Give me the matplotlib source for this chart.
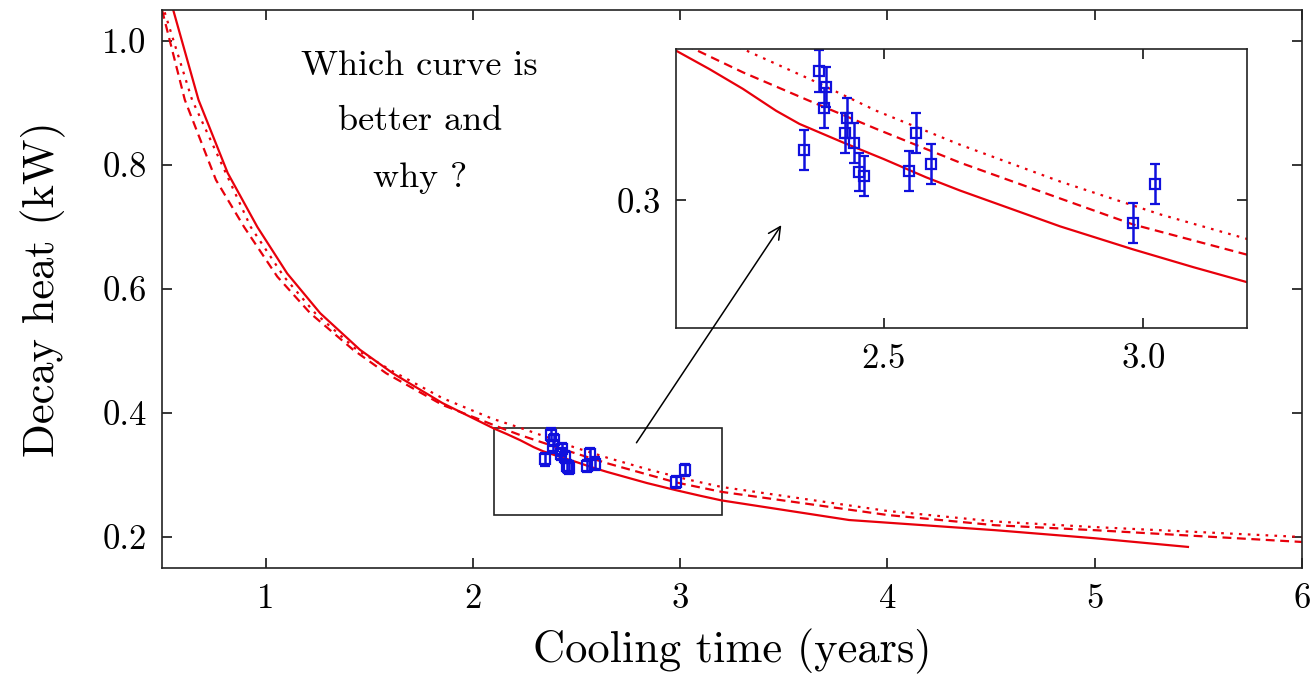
import numpy as np
import matplotlib
matplotlib.use("Agg")
import matplotlib.pyplot as plt

plt.rcParams['font.family'] = 'serif'
plt.rcParams['font.serif'] = ['cmr10', 'DejaVu Serif']
plt.rcParams['axes.formatter.use_mathtext'] = True

# measured points (cooling time in years, decay heat in kW)
t_meas = [2.346, 2.375, 2.389, 2.386, 2.429, 2.426, 2.443, 2.452, 2.462,
          2.548, 2.563, 2.591, 2.980, 3.022]
q_meas = [0.3253, 0.3651, 0.3568, 0.3462, 0.3414, 0.3337, 0.3288, 0.3141, 0.3121,
          0.3148, 0.3339, 0.3183, 0.2887, 0.3083]
q_err = [0.010, 0.0105, 0.010, 0.010, 0.010, 0.010, 0.010, 0.0095, 0.010,
         0.010, 0.010, 0.010, 0.010, 0.010]

# calculated curves
t_solid = [0.554, 0.676, 0.817, 0.960, 1.104, 1.263, 1.455, 1.614, 1.853, 2.100,
           2.164, 2.229, 2.293, 2.338, 2.421, 2.500, 2.582, 2.647, 2.840, 2.980,
           3.097, 3.200, 3.815, 4.520, 5.000, 5.450]
q_solid = [1.050, 0.905, 0.787, 0.700, 0.625, 0.561, 0.502, 0.464, 0.416, 0.3752,
           0.366, 0.356, 0.345, 0.3384, 0.3292, 0.3208, 0.3116, 0.3050, 0.2870, 0.2755,
           0.2665, 0.2590, 0.2274, 0.211, 0.198, 0.184]

t_dash = [0.500, 0.610, 0.760, 0.896, 1.056, 1.215, 1.422, 1.582, 1.853, 2.135,
          2.229, 2.357, 2.486, 2.647, 2.840, 2.980, 3.200, 4.000, 4.520, 5.000, 6.000]
q_dash = [1.050, 0.905, 0.776, 0.700, 0.620, 0.561, 0.502, 0.464, 0.413, 0.376,
          0.3643, 0.350, 0.3359, 0.3190, 0.3010, 0.2880, 0.2728, 0.2355, 0.219, 0.211, 0.192]

t_dot = [0.500, 0.645, 0.928, 1.088, 1.239, 1.439, 1.614, 1.853, 2.092, 2.229,
         2.357, 2.486, 2.647, 2.840, 3.033, 3.200, 4.000, 4.520, 5.000, 6.000]
q_dot = [1.060, 0.905, 0.700, 0.620, 0.561, 0.502, 0.467, 0.424, 0.391, 0.376,
         0.361, 0.345, 0.3280, 0.3095, 0.2930, 0.2807, 0.242, 0.225, 0.216, 0.200]

red = '#e8000b'
blue = '#1010dd'

fig = plt.figure(figsize=(13.11, 6.77), dpi=100)
ax = fig.add_axes([0.1236, 0.161, 0.8695, 0.8242])


def draw_curves(a, lw=1.6):
    a.plot(t_solid, q_solid, color=red, lw=lw, ls='-')
    a.plot(t_dash, q_dash, color=red, lw=lw, ls=(0, (4, 2.5)))
    a.plot(t_dot, q_dot, color=red, lw=lw, ls=(0, (1.2, 2.8)))
    a.errorbar(t_meas, q_meas, yerr=q_err, fmt='s', color=blue, mfc='none',
               mec=blue, ms=7.5, mew=1.6, elinewidth=1.8, capsize=3.5, capthick=1.6)


draw_curves(ax)
ax.set_xlim(0.5, 6)
ax.set_ylim(0.15, 1.05)
ax.set_xticks([1, 2, 3, 4, 5, 6])
ax.set_yticks([0.2, 0.4, 0.6, 0.8, 1.0])
ax.set_xticklabels(['1', '2', '3', '4', '5', '6'])
ax.set_yticklabels(['0.2', '0.4', '0.6', '0.8', '1.0'])
ax.tick_params(direction='in', top=True, right=True, length=7, width=1.1,
               labelsize=25, pad=11)
ax.set_xlabel('Cooling time (years)', fontsize=32, labelpad=10)
ax.set_ylabel('Decay heat (kW)', fontsize=32, labelpad=26)
for s in ax.spines.values():
    s.set_linewidth(1.2)
    s.set_color('#222222')

# zoom box
box_x = (2.1, 3.2)
box_y = (0.236, 0.376)
ax.add_patch(plt.Rectangle((box_x[0], box_y[0]), box_x[1] - box_x[0], box_y[1] - box_y[0],
                           fill=False, ec='#222222', lw=1.2))

question = ['Which curve is', 'better and', 'why ?']
for line, yy in zip(question, [0.8835, 0.785, 0.683]):
    ax.text(0.226, yy, line, transform=ax.transAxes, fontsize=26,
            ha='center', va='baseline')

# inset
axi = fig.add_axes([0.5156, 0.5155, 0.4356, 0.4121])
draw_curves(axi, lw=1.6)
axi.set_xlim(*box_x)
axi.set_ylim(*box_y)
axi.set_xticks([2.5, 3.0])
axi.set_xticklabels(['2.5', '3.0'])
axi.set_yticks([0.3])
axi.set_yticklabels(['0.3'])
axi.tick_params(direction='in', top=True, right=True, length=7, width=1.1,
                labelsize=25, pad=11)
for s in axi.spines.values():
    s.set_linewidth(1.2)
    s.set_color('#222222')

arrow_from = (2.789, 0.352)
arrow_to = (3.488, 0.703)
axi.annotate('', xy=arrow_to, xycoords=ax.transData, xytext=arrow_from,
             textcoords=ax.transData, annotation_clip=False,
             arrowprops=dict(arrowstyle='->', color='black', lw=1.1,
                             mutation_scale=22, shrinkA=0, shrinkB=0))

fig.savefig('out.png', dpi=100)
